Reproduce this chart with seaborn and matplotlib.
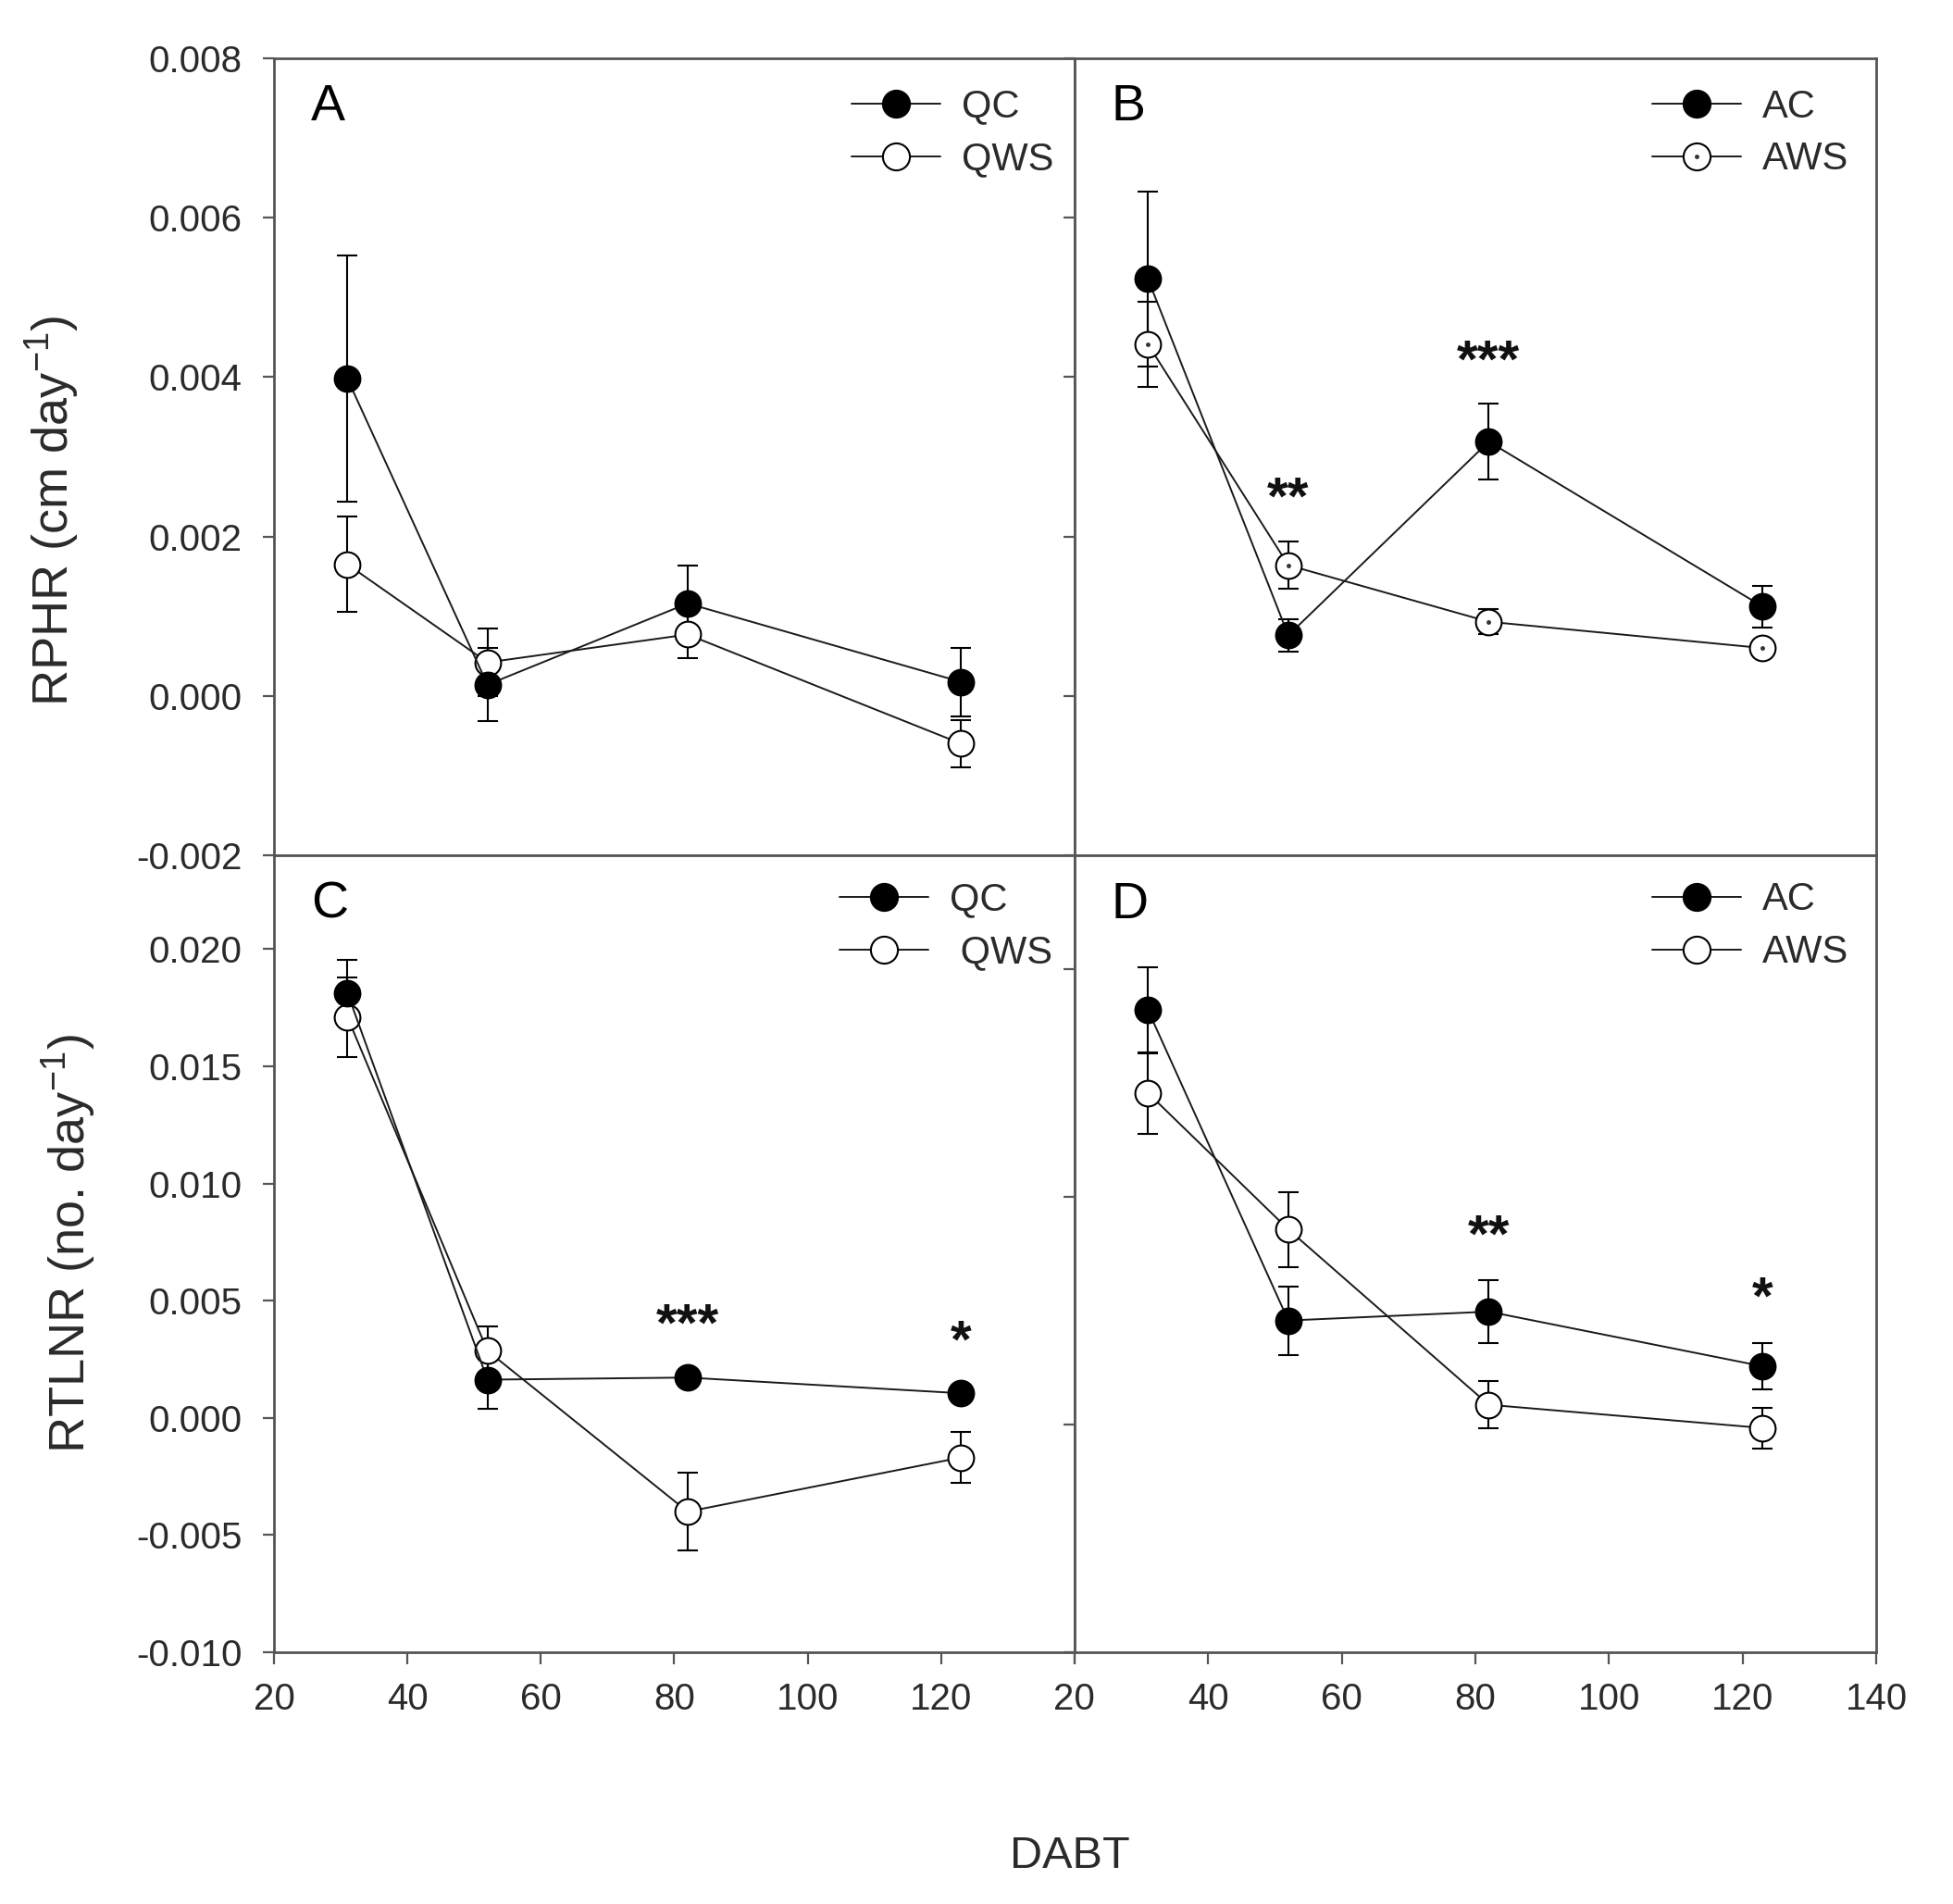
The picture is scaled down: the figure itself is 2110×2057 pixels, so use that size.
import numpy as np
import pandas as pd
import seaborn as sns
import matplotlib
matplotlib.use("Agg")
import matplotlib.pyplot as plt
from matplotlib.lines import Line2D

# ---------------- data ----------------
dabt = [31, 52, 82, 123]

a_qc = [0.00398, 0.00014, 0.00116, 0.000175]
a_qc_err = [0.00154, 0.00046, 0.00047, 0.00043]
a_qws = [0.00165, 0.00042, 0.00077, -0.0006]
a_qws_err = [0.0006, 0.00042, 0.0003, 0.0003]

b_ac = [0.00523, 0.00076, 0.00319, 0.00112]
b_ac_err = [0.0011, 0.0002, 0.00048, 0.00026]
b_aws = [0.00441, 0.00164, 0.00093, 0.0006]
b_aws_err = [0.00053, 0.0003, 0.00016, 0.0001]
b_star_x = [52, 82]
b_star_y = [0.0026, 0.00432]
b_star_txt = ["**", "***"]

c_qc = [0.01813, 0.00163, 0.00172, 0.00105]
c_qc_err = [0.0014, 0.00125, 0.0003, 0.0003]
c_qws = [0.0171, 0.00286, -0.004, -0.00169]
c_qws_err = [0.0017, 0.00105, 0.00165, 0.0011]
c_star_x = [82, 123]
c_star_y = [0.0044, 0.00368]
c_star_txt = ["***", "*"]

d_ac = [0.0182, 0.00457, 0.00496, 0.00256]
d_ac_err = [0.0019, 0.0015, 0.0014, 0.001]
d_aws = [0.01456, 0.00857, 0.00087, -0.00015]
d_aws_err = [0.0018, 0.00165, 0.00105, 0.0009]
d_star_x = [82, 123]
d_star_y = [0.00872, 0.006]
d_star_txt = ["**", "*"]

top_yticks = [-0.002, 0.000, 0.002, 0.004, 0.006, 0.008]
top_ylabels = ["-0.002", "0.000", "0.002", "0.004", "0.006", "0.008"]
c_yticks = [-0.010, -0.005, 0.000, 0.005, 0.010, 0.015, 0.020]
c_ylabels = ["-0.010", "-0.005", "0.000", "0.005", "0.010", "0.015", "0.020"]
d_yticks = [-0.01, 0.0, 0.01, 0.02]
xticks = [20, 40, 60, 80, 100, 120, 140]
c_xlabels = ["20", "40", "60", "80", "100", "120", ""]
d_xlabels = ["20", "40", "60", "80", "100", "120", "140"]

# ---------------- style ----------------
sns.set_style("ticks")
plt.rcParams["font.family"] = ["Liberation Sans", "DejaVu Sans"]
plt.rcParams["mathtext.default"] = "regular"

SPINE = "#555555"
TXT = "#2a2a2a"
MS = 20
LW = 1.4
TICKFS = 29
LEGFS = 30

fig = plt.figure(figsize=(21.10, 20.57), dpi=100)
L, M, R = 0.1403, 0.5502, 0.9607
B_, MH, T = 0.1322, 0.5508, 0.9694
axA = fig.add_axes([L, MH, M - L, T - MH])
axB = fig.add_axes([M, MH, R - M, T - MH])
axC = fig.add_axes([L, B_, M - L, MH - B_])
axD = fig.add_axes([M, B_, R - M, MH - B_])


def series(ax, y, err, filled, dot=False):
    ax.errorbar(dabt, y, yerr=err, fmt="none", ecolor="black",
                elinewidth=1.5, capsize=8, capthick=1.5, zorder=2)
    sns.lineplot(x=dabt, y=y, ax=ax, color="#1a1a1a", linewidth=LW,
                 marker="o", markersize=MS,
                 markerfacecolor="black" if filled else "white",
                 markeredgecolor="black", markeredgewidth=1.5,
                 zorder=4 if filled else 3, legend=False)
    if dot:
        ax.plot(dabt, y, linestyle="none", marker="o", markersize=2.5,
                color="#333333", zorder=5)


def style(ax, xlim, ylim):
    ax.set_xlim(*xlim)
    ax.set_ylim(*ylim)
    for s in ax.spines.values():
        s.set_visible(True)
        s.set_color(SPINE)
        s.set_linewidth(2.0)
    ax.tick_params(axis="both", direction="out", length=9, width=1.6,
                   color=SPINE, labelsize=TICKFS, labelcolor=TXT)
    ax.tick_params(axis="y", pad=16)
    ax.tick_params(axis="x", pad=14)
    ax.set_xlabel("")
    ax.set_ylabel("")


def legend(ax, labels, anchor, dot=False):
    h1 = Line2D([], [], color="#1a1a1a", linewidth=LW, marker="o",
                markersize=MS + 1, markerfacecolor="black",
                markeredgecolor="black", markeredgewidth=1.5)
    h2 = Line2D([], [], color="#1a1a1a", linewidth=LW, marker="o",
                markersize=MS + 1, markerfacecolor="white",
                markeredgecolor="black", markeredgewidth=1.5)
    handles = [h1, h2]
    if dot:
        hd = Line2D([], [], linestyle="none", marker="o", markersize=2.5,
                    color="#333333")
        handles = [h1, (h2, hd)]
    ax.legend(handles, labels, loc="upper right", bbox_to_anchor=anchor,
              frameon=False, fontsize=LEGFS, handlelength=2.3,
              handletextpad=0.55, labelspacing=0.4, borderpad=0,
              borderaxespad=0, labelcolor=TXT)


def stars(ax, xs, ys, txts):
    for x, y, t in zip(xs, ys, txts):
        ax.annotate(t, xy=(x, y), xytext=(0, -20), textcoords="offset points",
                    ha="center", va="baseline", fontsize=42,
                    fontweight="bold", color="#111111")


def letter(ax, t):
    ax.text(0.046, 0.968, t, transform=ax.transAxes, ha="left", va="top",
            fontsize=40, color="black")


# Panel A
series(axA, a_qc, a_qc_err, True)
series(axA, a_qws, a_qws_err, False)
style(axA, (20, 140), (-0.002, 0.008))
axA.set_yticks(top_yticks)
axA.set_yticklabels(top_ylabels)
axA.tick_params(axis="x", bottom=False, labelbottom=False)
legend(axA, ["QC", "QWS"], (0.974, 0.962))
letter(axA, "A")

# Panel B
series(axB, b_ac, b_ac_err, True)
series(axB, b_aws, b_aws_err, False, dot=True)
style(axB, (20, 140), (-0.002, 0.008))
axB.set_yticks(top_yticks)
axB.tick_params(axis="y", labelleft=False)
axB.tick_params(axis="x", bottom=False, labelbottom=False)
legend(axB, ["AC", "AWS"], (0.965, 0.962), dot=True)
stars(axB, b_star_x, b_star_y, b_star_txt)
letter(axB, "B")

# Panel C
series(axC, c_qc, c_qc_err, True)
series(axC, c_qws, c_qws_err, False)
style(axC, (20, 140), (-0.010, 0.024))
axC.set_yticks(c_yticks)
axC.set_yticklabels(c_ylabels)
axC.set_xticks(xticks)
axC.set_xticklabels(c_xlabels)
legend(axC, ["QC", " QWS"], (0.972, 0.967))
stars(axC, c_star_x, c_star_y, c_star_txt)
letter(axC, "C")

# Panel D
series(axD, d_ac, d_ac_err, True)
series(axD, d_aws, d_aws_err, False)
style(axD, (20, 140), (-0.010, 0.025))
axD.set_yticks(d_yticks)
axD.tick_params(axis="y", labelleft=False)
axD.set_xticks(xticks)
axD.set_xticklabels(d_xlabels)
legend(axD, ["AC", "AWS"], (0.965, 0.967))
stars(axD, d_star_x, d_star_y, d_star_txt)
letter(axD, "D")

fig.text(0.027, 0.7316, "RPHR (cm day$^{-1}$)", rotation=90, ha="center",
         va="center", fontsize=39, color=TXT)
fig.text(0.0355, 0.347, "RTLNR (no. day$^{-1}$)", rotation=90, ha="center",
         va="center", fontsize=39, color=TXT)
fig.text(0.548, 0.025, "DABT", ha="center", va="center", fontsize=35,
         color=TXT)

fig.savefig("out.png", dpi=100, facecolor="white")
